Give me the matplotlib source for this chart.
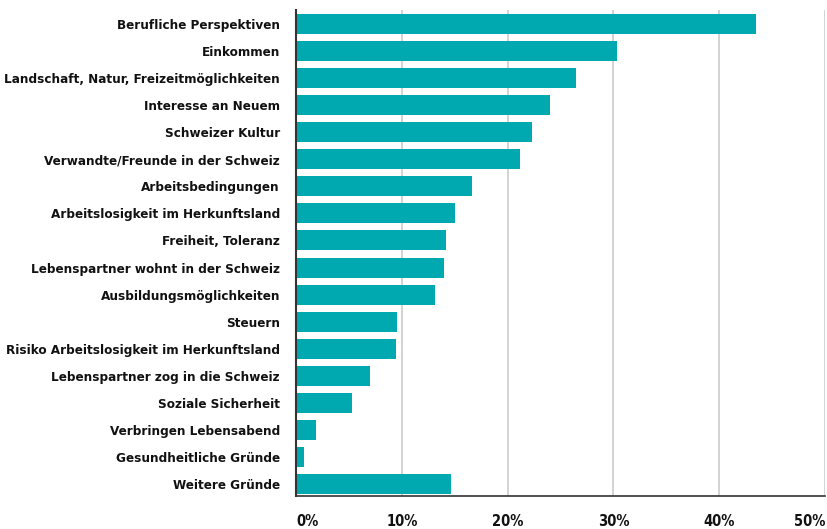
import matplotlib
matplotlib.use("Agg")
import matplotlib.pyplot as plt

# --------- dados ---------
categorias = [
    "Berufliche Perspektiven",
    "Einkommen",
    "Landschaft, Natur, Freizeitmöglichkeiten",
    "Interesse an Neuem",
    "Schweizer Kultur",
    "Verwandte/Freunde in der Schweiz",
    "Arbeitsbedingungen",
    "Arbeitslosigkeit im Herkunftsland",
    "Freiheit, Toleranz",
    "Lebenspartner wohnt in der Schweiz",
    "Ausbildungsmöglichkeiten",
    "Steuern",
    "Risiko Arbeitslosigkeit im Herkunftsland",
    "Lebenspartner zog in die Schweiz",
    "Soziale Sicherheit",
    "Verbringen Lebensabend",
    "Gesundheitliche Gründe",
    "Weitere Gründe",
]
valores = [43.5, 30.3, 26.5, 24.0, 22.3, 21.2, 16.6, 15.0, 14.2, 14.0,
           13.1, 9.5, 9.45, 7.0, 5.3, 1.9, 0.75, 14.6]
ticks = [0, 10, 20, 30, 40, 50]
tick_labels = ["0%", "10%", "20%", "30%", "40%", "50%"]

# fonte condensada (DejaVu Sans Condensed Bold)
plt.rcParams["font.family"] = ["DejaVu Sans"]
cor = "#00a9af"

fig = plt.figure(figsize=(8.28, 5.29), dpi=100)
ax = fig.add_axes([0.3575, 0.0624, 0.639, 0.919])

y = list(range(len(categorias)))
ax.barh(y, valores, height=0.74, color=cor, zorder=2)

ax.set_xlim(0, 50)
ax.set_ylim(len(categorias) - 0.56, -0.52)
ax.set_yticks(y)
ax.set_yticklabels(categorias, fontsize=9.6, fontweight="bold", fontstretch="condensed", color="#111111")
ax.set_xticks(ticks)
ax.set_xticklabels(tick_labels, fontsize=10.5, fontweight="bold", fontstretch="condensed", color="#111111")
# primeiro rótulo alinhado à esquerda, último à direita
xl = ax.get_xticklabels()
xl[0].set_ha("left")
xl[-1].set_ha("right")
ax.tick_params(axis="y", length=0, pad=11.5)
ax.tick_params(axis="x", length=0, pad=13)

ax.grid(axis="x", color="#cccccc", linewidth=1.2, zorder=0)
for s in ["top", "right"]:
    ax.spines[s].set_visible(False)
ax.spines["left"].set_color("#333333")
ax.spines["left"].set_linewidth(1.5)
ax.spines["bottom"].set_color("#333333")
ax.spines["bottom"].set_linewidth(1.2)
ax.spines["left"].set_zorder(3)

plt.savefig("out.png", dpi=100)
